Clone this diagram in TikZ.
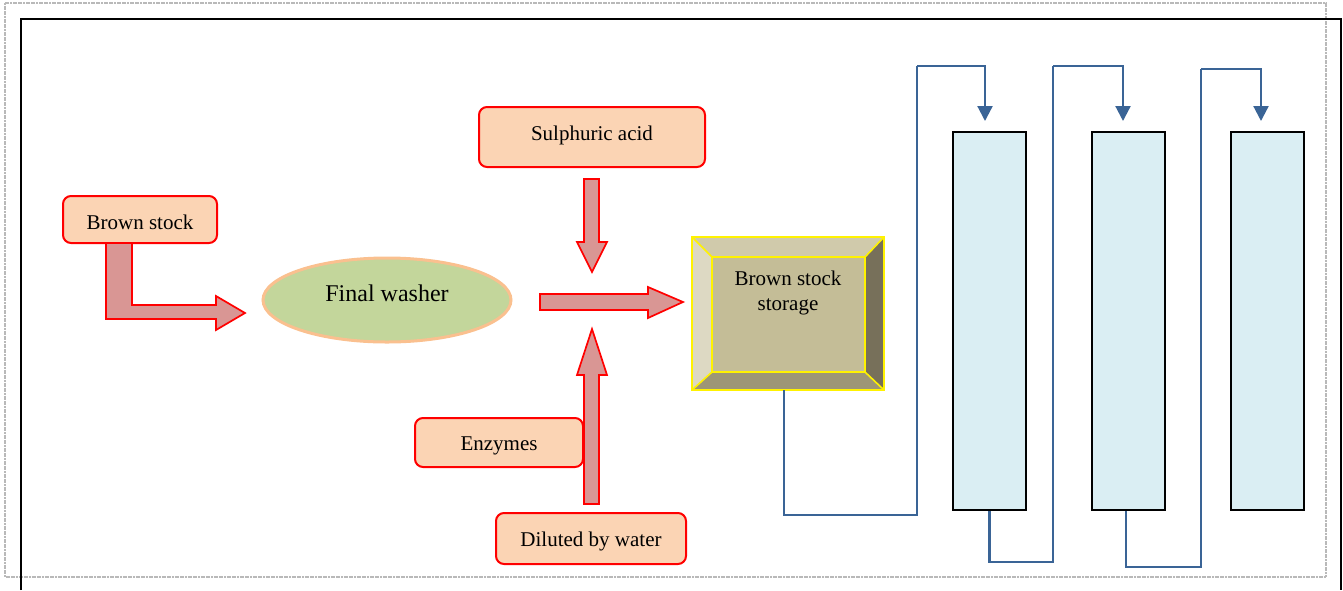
\documentclass[tikz,border=0pt]{standalone}
\usepackage{fontspec}
\setmainfont{Liberation Serif}
\usetikzlibrary{arrows.meta,shapes.geometric}

\definecolor{peach}{HTML}{FBD4B4}
\definecolor{washfill}{HTML}{C3D69B}
\definecolor{washedge}{HTML}{FAC08F}
\definecolor{blockfill}{HTML}{D99694}
\definecolor{colfill}{HTML}{DAEEF3}
\definecolor{pipe}{HTML}{3A6496}
\definecolor{bvinner}{HTML}{C4BD97}
\definecolor{bvtop}{HTML}{D0CAAB}
\definecolor{bvleft}{HTML}{DDD9C3}
\definecolor{bvright}{HTML}{77705A}
\definecolor{bvbottom}{HTML}{9D9676}

\tikzset{
  inbox/.style={draw=red, line width=2pt, fill=peach, rounded corners=8pt,
    inner sep=0pt, text depth=0pt, font=\fontsize{21}{24}\selectfont},
  blockarrow/.style={draw=red, line width=1.7pt, fill=blockfill, line join=miter},
  column/.style={draw=black, line width=2pt, fill=colfill, inner sep=0pt},
  flow/.style={draw=pipe, line width=2.2pt},
  flowin/.style={flow, -{Triangle[length=15pt,width=15pt]}, shorten >=10pt},
  bevel/.style={draw=yellow, line width=1.6pt, line join=miter},
}

\begin{document}
\begin{tikzpicture}[x=1pt, y=-1pt]
  \useasboundingbox (0,0) rectangle (1343,590);

  % page frames
  \draw[gray!55, line width=1.1pt, dash pattern=on 2pt off 0.6pt] (5,3) rectangle (1326,577);
  \draw[black, line width=2pt] (21,590) -- (21,19) -- (1341,19) -- (1341,590);

  % input boxes
  \node[inbox, minimum width=154pt, minimum height=47pt, text height=19pt]
       (bs) at (140,219.5) {Brown stock};
  \node[inbox, minimum width=226pt, minimum height=60pt, text height=15pt, text depth=9pt]
       (acid) at (592,137) {Sulphuric acid};
  \node[inbox, minimum width=168pt, minimum height=49pt, text height=15pt]
       (enz) at (499,442.5) {Enzymes};
  \node[inbox, minimum width=190pt, minimum height=51pt, text height=15pt]
       (dil) at (591,538.5) {Diluted by water};

  % final washer
  \node[ellipse, draw=washedge, line width=3pt, fill=washfill,
        minimum width=248pt, minimum height=84pt, inner sep=0pt,
        text height=12pt, text depth=10pt,
        font=\fontsize{24}{28}\selectfont] (wash) at (387,300) {Final washer};

  % block arrows
  \draw[blockarrow] (106,243) -- (132,243) -- (132,305) -- (216,305) -- (216,296)
        -- (245,313) -- (216,330) -- (216,319) -- (106,319) -- cycle;
  \draw[blockarrow] (584,179) -- (599,179) -- (599,242) -- (607,242) -- (592,272)
        -- (577,242) -- (584,242) -- cycle;
  \draw[blockarrow] (540,294) -- (648,294) -- (648,287) -- (683,302) -- (648,318)
        -- (648,310) -- (540,310) -- cycle;
  \draw[blockarrow] (584,504) -- (584,375) -- (577,375) -- (592,329) -- (607,375)
        -- (599,375) -- (599,504) -- cycle;

  % brown stock storage (bevelled box)
  \fill[bvtop]    (692,237) -- (884,237) -- (865,257) -- (712,257) -- cycle;
  \fill[bvleft]   (692,237) -- (712,257) -- (712,372) -- (692,390) -- cycle;
  \fill[bvright]  (884,237) -- (884,390) -- (865,372) -- (865,257) -- cycle;
  \fill[bvbottom] (692,390) -- (884,390) -- (865,372) -- (712,372) -- cycle;
  \fill[bvinner]  (712,257) rectangle (865,372);
  \draw[bevel] (692,237) rectangle (884,390);
  \draw[bevel] (712,257) rectangle (865,372);
  \draw[bevel] (692,237) -- (712,257) (884,237) -- (865,257)
               (884,390) -- (865,372) (692,390) -- (712,372);
  \node[minimum width=192pt, minimum height=153pt, inner sep=0pt] (store) at (784,313.5) {};
  \node[align=center, font=\fontsize{21}{25}\selectfont] (storetext) at (788,293)
       {Brown stock\\storage};

  % columns
  \node[column, minimum width=73pt, minimum height=378pt] (col1) at (989.5,321) {};
  \node[column, minimum width=73pt, minimum height=378pt] (col2) at (1128.5,321) {};
  \node[column, minimum width=73pt, minimum height=378pt] (col3) at (1267.5,321) {};

  % pipework between storage and columns
  \coordinate (p1a) at (917,515);
  \coordinate (p1b) at (917,66);
  \coordinate (p2a) at (1053,562);
  \coordinate (p2b) at (1053,66);
  \coordinate (p3a) at (1201,567);
  \coordinate (p3b) at (1201,69);
  \draw[flow] (store.south) |- (p1a) -- (p1b);
  \draw[flowin] (p1b) -| ([xshift=-4.5pt]col1.north);
  \draw[flow] (col1.south) |- (p2a) -- (p2b);
  \draw[flowin] (p2b) -| ([xshift=-5.5pt]col2.north);
  \draw[flow] ([xshift=-2.5pt]col2.south) |- (p3a) -- (p3b);
  \draw[flowin] (p3b) -| ([xshift=-6.5pt]col3.north);
\end{tikzpicture}
\end{document}
